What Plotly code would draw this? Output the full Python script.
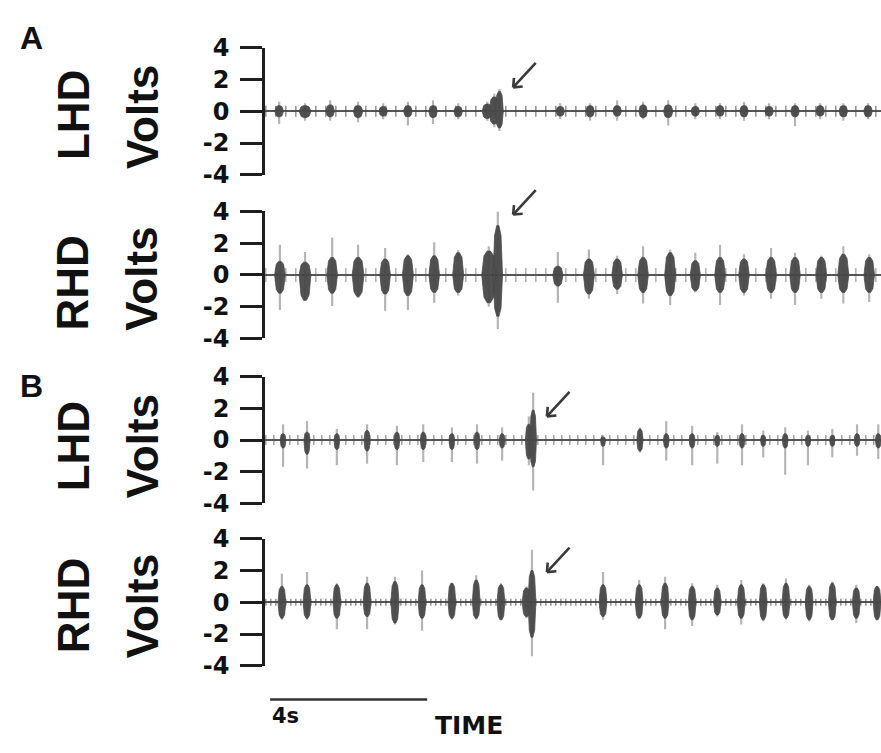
import plotly.graph_objects as go

# ---------------------------------------------------------------------------
# Recording window (seconds) and scale bar
# ---------------------------------------------------------------------------
REC_SPAN = [0.0, 15.69]          # visible time window, s
SCALE_START = 0.13               # start of the time scale bar, s
SCALE_LEN = 4.0                  # scale bar length, s
VOLT_TICKS = [-4, -2, 0, 2, 4]

# ---------------------------------------------------------------------------
# Burst tables per channel: centre time (s), width (s), core envelope (V)
# and the extreme excursions of the burst (V)
# ---------------------------------------------------------------------------
# A - left hemisphere
A_LHD_T = [0.36, 1.02, 1.66, 2.37, 3.01, 3.64, 4.28, 4.92, 5.66, 5.84, 5.97,
           7.52, 8.28, 8.97, 9.63, 10.27, 10.96, 11.59, 12.20, 12.84, 13.50,
           14.14, 14.73, 15.36]
A_LHD_W = [0.22, 0.30, 0.22, 0.24, 0.22, 0.22, 0.22, 0.22, 0.26, 0.26, 0.20,
           0.22, 0.22, 0.22, 0.22, 0.24, 0.22, 0.22, 0.22, 0.22, 0.22,
           0.22, 0.22, 0.22]
A_LHD_HI = [0.35, 0.35, 0.40, 0.35, 0.30, 0.35, 0.35, 0.30, 0.45, 0.90, 1.25,
            0.30, 0.35, 0.35, 0.40, 0.40, 0.30, 0.35, 0.35, 0.30, 0.35,
            0.35, 0.35, 0.35]
A_LHD_LO = [-0.35, -0.40, -0.35, -0.40, -0.30, -0.35, -0.40, -0.35, -0.45, -0.80, -1.05,
            -0.30, -0.35, -0.30, -0.40, -0.40, -0.30, -0.30, -0.35, -0.30, -0.35,
            -0.30, -0.35, -0.35]
A_LHD_PK_HI = [0.60, 0.50, 0.70, 0.60, 0.50, 0.60, 0.70, 0.50, 0.60, 1.10, 1.40,
               0.50, 0.50, 0.70, 0.60, 0.70, 0.50, 0.50, 0.60, 0.50, 0.50,
               0.50, 0.50, 0.50]
A_LHD_PK_LO = [-0.80, -0.60, -0.60, -0.70, -0.50, -0.90, -0.80, -0.50, -0.60, -1.00, -1.25,
               -0.50, -0.60, -0.60, -0.50, -0.90, -0.50, -0.50, -0.60, -0.50, -0.95,
               -0.50, -0.60, -0.50]

# A - right hemisphere
A_RHD_T = [0.38, 1.02, 1.71, 2.37, 3.06, 3.64, 4.31, 4.92, 5.70, 5.93,
           7.46, 8.25, 8.97, 9.63, 10.32, 10.96, 11.59, 12.20, 12.89, 13.50,
           14.17, 14.73, 15.39]
A_RHD_W = [0.27, 0.30, 0.27, 0.30, 0.27, 0.28, 0.27, 0.28, 0.36, 0.24,
           0.26, 0.28, 0.27, 0.27, 0.28, 0.26, 0.27, 0.27, 0.27, 0.27,
           0.27, 0.28, 0.27]
A_RHD_HI = [0.85, 0.80, 1.10, 1.10, 1.00, 1.20, 1.20, 1.40, 1.50, 3.10,
            0.55, 1.00, 1.00, 1.10, 1.40, 0.90, 1.10, 1.00, 1.10, 1.10,
            1.10, 1.30, 1.10]
A_RHD_LO = [-1.15, -1.60, -1.15, -1.35, -1.20, -1.30, -1.10, -1.10, -1.75, -2.60,
            -0.70, -1.20, -0.90, -1.10, -1.30, -1.00, -1.10, -1.10, -1.10, -1.10,
            -1.10, -1.10, -1.10]
A_RHD_PK_HI = [1.90, 1.45, 2.35, 1.90, 1.70, 1.30, 2.05, 1.55, 1.80, 4.00,
               1.45, 1.60, 1.20, 1.80, 1.60, 1.40, 1.90, 1.30, 1.70, 1.40,
               1.20, 1.80, 1.30]
A_RHD_PK_LO = [-2.20, -1.60, -1.95, -1.45, -2.25, -2.20, -1.75, -1.30, -2.00, -3.40,
               -1.75, -1.50, -1.20, -1.80, -1.90, -1.10, -1.90, -1.30, -1.50, -1.90,
               -1.50, -1.80, -1.70]

# B - left hemisphere
B_LHD_T = [0.46, 1.07, 1.83, 2.60, 3.36, 4.03, 4.76, 5.40, 6.04, 6.72, 6.83,
           8.61, 9.55, 10.22, 10.88, 11.52, 12.15, 12.69, 13.25, 13.83, 14.45,
           15.08, 15.62]
B_LHD_W = [0.15, 0.16, 0.15, 0.16, 0.15, 0.15, 0.15, 0.15, 0.15, 0.18, 0.17,
           0.13, 0.16, 0.15, 0.15, 0.14, 0.15, 0.14, 0.15, 0.14, 0.14,
           0.15, 0.15]
B_LHD_HI = [0.40, 0.50, 0.40, 0.60, 0.50, 0.50, 0.40, 0.50, 0.40, 1.00, 1.90,
            0.20, 0.70, 0.40, 0.40, 0.30, 0.40, 0.30, 0.40, 0.30, 0.30,
            0.40, 0.40]
B_LHD_LO = [-0.50, -0.90, -0.60, -0.70, -0.60, -0.60, -0.60, -0.60, -0.50, -1.20, -1.70,
            -0.40, -0.70, -0.50, -0.50, -0.40, -0.50, -0.40, -0.50, -0.40, -0.40,
            -0.40, -0.50]
B_LHD_PK_HI = [1.00, 1.20, 0.70, 1.00, 0.90, 1.00, 0.80, 1.00, 0.80, 1.50, 3.00,
               0.30, 0.80, 1.20, 0.90, 0.50, 1.00, 0.60, 0.80, 0.60, 0.70,
               1.00, 1.00]
B_LHD_PK_LO = [-1.70, -1.80, -1.60, -1.50, -1.60, -1.40, -1.40, -1.50, -1.30, -1.60, -3.20,
               -1.60, -0.80, -1.30, -1.60, -1.50, -1.60, -1.10, -2.20, -1.60, -1.10,
               -1.00, -1.20]

# B - right hemisphere
B_RHD_T = [0.43, 1.07, 1.83, 2.60, 3.31, 4.00, 4.76, 5.38, 6.01, 6.66, 6.80,
           8.61, 9.53, 10.19, 10.88, 11.52, 12.13, 12.69, 13.27, 13.86, 14.45,
           15.06, 15.59]
B_RHD_W = [0.20, 0.20, 0.20, 0.20, 0.21, 0.20, 0.20, 0.20, 0.20, 0.22, 0.20,
           0.20, 0.20, 0.20, 0.20, 0.19, 0.20, 0.20, 0.20, 0.20, 0.20,
           0.20, 0.20]
B_RHD_HI = [1.00, 1.10, 1.10, 1.20, 1.30, 1.10, 1.20, 1.40, 1.10, 0.90, 2.00,
            1.10, 1.10, 1.20, 1.00, 0.90, 1.10, 1.10, 1.20, 1.00, 1.20,
            0.90, 1.00]
B_RHD_LO = [-1.00, -1.00, -1.00, -0.90, -1.30, -1.00, -1.00, -1.00, -1.10, -0.90, -2.20,
            -0.90, -1.00, -1.00, -1.10, -0.80, -1.00, -1.10, -1.00, -1.10, -1.10,
            -1.00, -1.10]
B_RHD_PK_HI = [1.80, 1.90, 1.20, 1.60, 1.60, 2.00, 1.20, 1.70, 1.20, 1.00, 3.30,
               1.90, 1.40, 1.60, 1.20, 1.10, 1.40, 1.20, 1.50, 1.10, 1.30,
               1.10, 1.00]
B_RHD_PK_LO = [-1.10, -1.10, -1.70, -1.70, -1.40, -1.80, -1.10, -1.10, -1.10, -1.00, -3.40,
               -1.10, -1.00, -1.70, -1.50, -0.90, -1.40, -1.20, -1.10, -1.20, -1.10,
               -1.30, -1.10]

# Seizure-onset markers: time (s) and voltage at the arrow tip
ARROW_T = [6.32, 6.32, 7.18, 7.18]
ARROW_V = [1.5, 3.8, 1.5, 1.9]

CHANNEL_NAMES = ["LHD", "RHD", "LHD", "RHD"]

# ---------------------------------------------------------------------------
# Layout geometry (pixels of the 881 x 753 page)
# ---------------------------------------------------------------------------
W, H = 881, 753
PLOT_LEFT = 265
ROWS_PX = [(35, 167), (205, 337), (377, 508), (545, 677)]   # (top, bottom)
NAME_Y_PX = [105, 280, 449, 615]
VOLTS_Y_PX = [107, 275, 449, 615]
TICK_DASH = ["1.6px,8.4px", "1.6px,8.4px", "1.6px,6.4px", "1.6px,3.4px"]
TICK_THICK = [11, 14, 10, 7]
TICK_COLOR = ["rgba(70,70,70,0.55)", "rgba(90,90,90,0.45)",
              "rgba(80,80,80,0.5)", "rgba(70,70,70,0.55)"]

CORE_COLOR = "rgba(72,72,72,0.95)"
SPIKE_COLOR = "rgba(120,120,120,0.55)"
AXIS_COLOR = "#1e1e1e"


def py(px):
    return 1 - px / H


def spindle(ts, ws, his, los):
    xs, ys = [], []
    for t, w, hi, lo in zip(ts, ws, his, los):
        xs += [t - w / 2, t - w * 0.34, t - w * 0.12, t + w * 0.12, t + w * 0.34, t + w / 2,
               t + w * 0.34, t + w * 0.12, t - w * 0.12, t - w * 0.34, t - w / 2, None]
        ys += [0, hi * 0.8, hi, hi, hi * 0.8, 0,
               lo * 0.8, lo, lo, lo * 0.8, 0, None]
    return xs, ys


def spikes(ts, his, los):
    xs, ys = [], []
    for t, hi, lo in zip(ts, his, los):
        xs += [t, t, None]
        ys += [lo, hi, None]
    return xs, ys


channels = [
    (A_LHD_T, A_LHD_W, A_LHD_HI, A_LHD_LO, A_LHD_PK_HI, A_LHD_PK_LO),
    (A_RHD_T, A_RHD_W, A_RHD_HI, A_RHD_LO, A_RHD_PK_HI, A_RHD_PK_LO),
    (B_LHD_T, B_LHD_W, B_LHD_HI, B_LHD_LO, B_LHD_PK_HI, B_LHD_PK_LO),
    (B_RHD_T, B_RHD_W, B_RHD_HI, B_RHD_LO, B_RHD_PK_HI, B_RHD_PK_LO),
]

fig = go.Figure()
layout = dict(
    width=W, height=H,
    margin=dict(l=0, r=0, t=0, b=0),
    paper_bgcolor="white", plot_bgcolor="white",
    showlegend=False,
)

annotations = []
shapes = []

for i, (ts, ws, his, los, phis, plos) in enumerate(channels):
    n = i + 1
    xa = "x" if n == 1 else f"x{n}"
    ya = "y" if n == 1 else f"y{n}"
    top, bot = ROWS_PX[i]

    # background sampling ticks along the baseline
    fig.add_trace(go.Scatter(
        x=REC_SPAN, y=[0.0 for _ in REC_SPAN], mode="lines",
        line=dict(color=TICK_COLOR[i], width=TICK_THICK[i], dash=TICK_DASH[i]),
        xaxis=xa, yaxis=ya, hoverinfo="skip"))

    # extreme excursions of each burst
    sx, sy = spikes(ts, phis, plos)
    fig.add_trace(go.Scatter(
        x=sx, y=sy, mode="lines",
        line=dict(color=SPIKE_COLOR, width=2.2),
        xaxis=xa, yaxis=ya, hoverinfo="skip"))

    # burst envelopes
    bx, by = spindle(ts, ws, his, los)
    fig.add_trace(go.Scatter(
        x=bx, y=by, mode="lines", fill="toself",
        fillcolor=CORE_COLOR, line=dict(color=CORE_COLOR, width=0.8),
        xaxis=xa, yaxis=ya, hoverinfo="skip"))

    layout["xaxis" if n == 1 else f"xaxis{n}"] = dict(
        domain=[PLOT_LEFT / W, 1], range=REC_SPAN, anchor=ya,
        visible=False, showgrid=False, zeroline=False)
    layout["yaxis" if n == 1 else f"yaxis{n}"] = dict(
        domain=[py(bot), py(top)], range=[-4, 4], anchor=xa,
        tickvals=VOLT_TICKS, ticktext=[str(v) for v in VOLT_TICKS],
        ticks="outside", ticklen=22, tickwidth=2.5, tickcolor=AXIS_COLOR,
        showline=True, linewidth=2.5, linecolor=AXIS_COLOR,
        showgrid=False, zeroline=True, zerolinecolor="#555555", zerolinewidth=2,
        ticklabelstandoff=6,
        tickfont=dict(family="DejaVu Sans", size=24, color="#111111", weight="bold"))

    # channel name and unit, written vertically
    annotations.append(dict(
        text=CHANNEL_NAMES[i], x=73 / W, y=py(NAME_Y_PX[i]), xref="paper", yref="paper",
        textangle=-90, showarrow=False, xanchor="center", yanchor="middle",
        font=dict(family="Liberation Sans", size=44, color="#111111", weight="bold")))
    annotations.append(dict(
        text="Volts", x=142 / W, y=py(VOLTS_Y_PX[i]), xref="paper", yref="paper",
        textangle=-90, showarrow=False, xanchor="center", yanchor="middle",
        font=dict(family="Liberation Sans", size=44, color="#111111", weight="bold")))

    # arrow marking the event: shaft plus two chevron arms
    for ax, ay in [(24, -26), (11, -1), (1, -11)]:
        annotations.append(dict(
            text="", x=ARROW_T[i], y=ARROW_V[i], xref=xa, yref=ya,
            showarrow=True, arrowhead=0, arrowwidth=2.6, arrowcolor="#3a3a3a",
            ax=ax, ay=ay, standoff=0, startstandoff=0))

# panel letters
for letter, ypx in [("A", 25), ("B", 386)]:
    annotations.append(dict(
        text=letter, x=31 / W, y=py(ypx), xref="paper", yref="paper",
        showarrow=False, xanchor="center", yanchor="middle",
        font=dict(family="Liberation Sans", size=32, color="#111111", weight="bold")))

# time scale bar
shapes.append(dict(
    type="line", xref="x4", yref="paper",
    x0=SCALE_START, x1=SCALE_START + SCALE_LEN, y0=py(712), y1=py(712),
    line=dict(color="#333333", width=2.5)))
annotations.append(dict(
    text=f"{SCALE_LEN:g}s", x=SCALE_START, y=py(729), xref="x4", yref="paper",
    showarrow=False, xanchor="left", yanchor="middle",
    font=dict(family="DejaVu Sans", size=21, color="#111111", weight="bold")))
annotations.append(dict(
    text="TIME", x=433 / W, y=py(739), xref="paper", yref="paper",
    showarrow=False, xanchor="left", yanchor="middle",
    font=dict(family="DejaVu Sans", size=25, color="#111111", weight="bold")))

layout["annotations"] = annotations
layout["shapes"] = shapes
fig.update_layout(**layout)

fig.write_html("out.html")
